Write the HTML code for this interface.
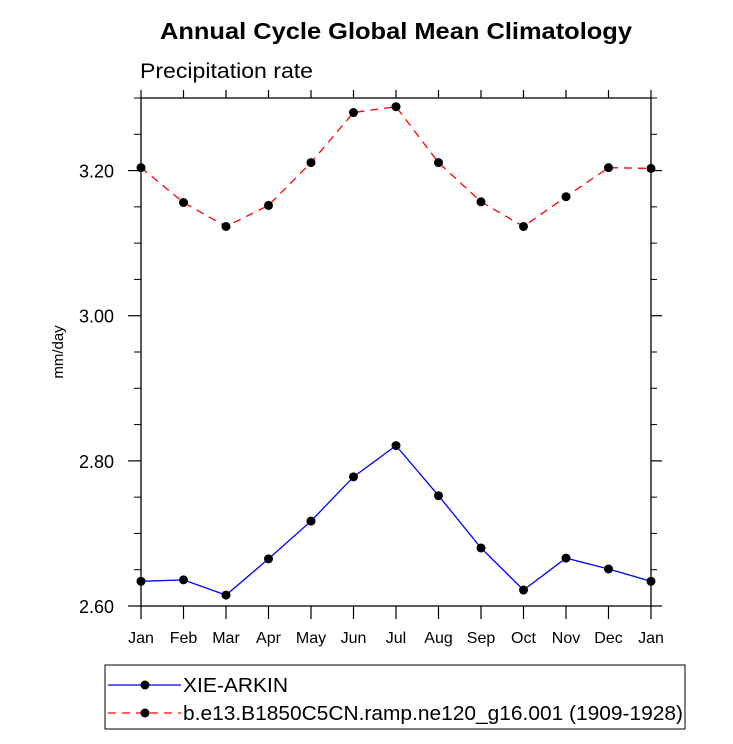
<!DOCTYPE html>
<html><head><meta charset="utf-8"><style>
body{margin:0;background:#fff;}
svg text{font-family:"Liberation Sans",sans-serif;}
</style></head><body>
<svg id="chart" width="733" height="739" xmlns="http://www.w3.org/2000/svg">
<text x="160" y="39" font-size="23" font-weight="bold" textLength="472" lengthAdjust="spacingAndGlyphs">Annual Cycle Global Mean Climatology</text>
<text x="140" y="78" font-size="21" textLength="173" lengthAdjust="spacingAndGlyphs">Precipitation rate</text>
<text transform="translate(63,352) rotate(-90)" text-anchor="middle" font-size="15">mm/day</text>
<g id="axes"></g>
<g id="series"></g>
<rect x="105" y="665" width="580" height="64" fill="none" stroke="#000" stroke-width="1"/>
<line x1="108" y1="685" x2="181" y2="685" stroke="#0000ff" stroke-width="1.2"/>
<circle cx="145" cy="685" r="4.5" fill="#000"/>
<text x="183" y="692" font-size="20" textLength="105" lengthAdjust="spacingAndGlyphs">XIE-ARKIN</text>
<line x1="108" y1="713" x2="181" y2="713" stroke="#ff0000" stroke-width="1.2" stroke-dasharray="8,6"/>
<circle cx="145" cy="713" r="4.5" fill="#000"/>
<text x="183" y="720" font-size="20" textLength="500" lengthAdjust="spacingAndGlyphs">b.e13.B1850C5CN.ramp.ne120_g16.001 (1909-1928)</text>
</svg>
<script>
const months = ["Jan","Feb","Mar","Apr","May","Jun","Jul","Aug","Sep","Oct","Nov","Dec","Jan"];
const obsValues = [2.634,2.636,2.615,2.665,2.717,2.778,2.821,2.752,2.680,2.622,2.666,2.651,2.634];
const modelValues = [3.204,3.156,3.123,3.152,3.211,3.280,3.288,3.211,3.157,3.123,3.164,3.204,3.203];
const yTicks = [2.6,2.8,3.0,3.2];
const yTickLabels = ["2.60","2.80","3.00","3.20"];
const yMinorTicks = [2.65,2.7,2.75,2.85,2.9,2.95,3.05,3.1,3.15,3.25,3.3];

const L=141,R=651,T=98,B=606,yMin=2.6,yMax=3.3;
const NS="http://www.w3.org/2000/svg";
const xs=i=>L+(R-L)*i/(months.length-1);
const ys=v=>B-(B-T)*(v-yMin)/(yMax-yMin);
function mk(tag,attrs,parent){const e=document.createElementNS(NS,tag);for(const k in attrs)e.setAttribute(k,attrs[k]);parent.appendChild(e);return e;}
const ax=document.getElementById('axes'), se=document.getElementById('series');
const frame=mk('rect',{x:L,y:T,width:R-L,height:B-T,fill:'none',stroke:'#000','stroke-width':1.3},ax);


months.forEach((m,i)=>{
  const x=xs(i);
  mk('line',{x1:x,y1:B,x2:x,y2:B+13,stroke:'#000','stroke-width':1.2},ax);
  mk('line',{x1:x,y1:T,x2:x,y2:T-8,stroke:'#000','stroke-width':1.2},ax);
  const t=mk('text',{x:x,y:B+37,'text-anchor':'middle','font-size':16},ax);
  t.textContent=m;
  
  
});
yTicks.forEach((v,i)=>{
  const y=ys(v);
  mk('line',{x1:L-13,y1:y,x2:L,y2:y,stroke:'#000','stroke-width':1.2},ax);
  mk('line',{x1:R,y1:y,x2:R+11,y2:y,stroke:'#000','stroke-width':1.2},ax);
  const t=mk('text',{x:L-27,y:y+7,'text-anchor':'end','font-size':18},ax);
  t.textContent=yTickLabels[i];
  
  
});
yMinorTicks.forEach(v=>{
  const y=ys(v);
  mk('line',{x1:L-7,y1:y,x2:L,y2:y,stroke:'#000','stroke-width':1},ax);
  mk('line',{x1:R,y1:y,x2:R+6,y2:y,stroke:'#000','stroke-width':1},ax);
});
function series(vals,color,dash,name){
  const p=mk('polyline',{points:vals.map((v,i)=>xs(i)+','+ys(v)).join(' '),fill:'none',stroke:color,'stroke-width':1.3},se);
  if(dash)p.setAttribute('stroke-dasharray',dash);
  
  
  vals.forEach((v,i)=>{
    const c=mk('circle',{cx:xs(i),cy:ys(v),r:4.5,fill:'#000'},se);
    
    
  });
}
series(modelValues,'#ff0000','8,6','model');
series(obsValues,'#0000ff',null,'xie-arkin');
</script>
</body></html>
